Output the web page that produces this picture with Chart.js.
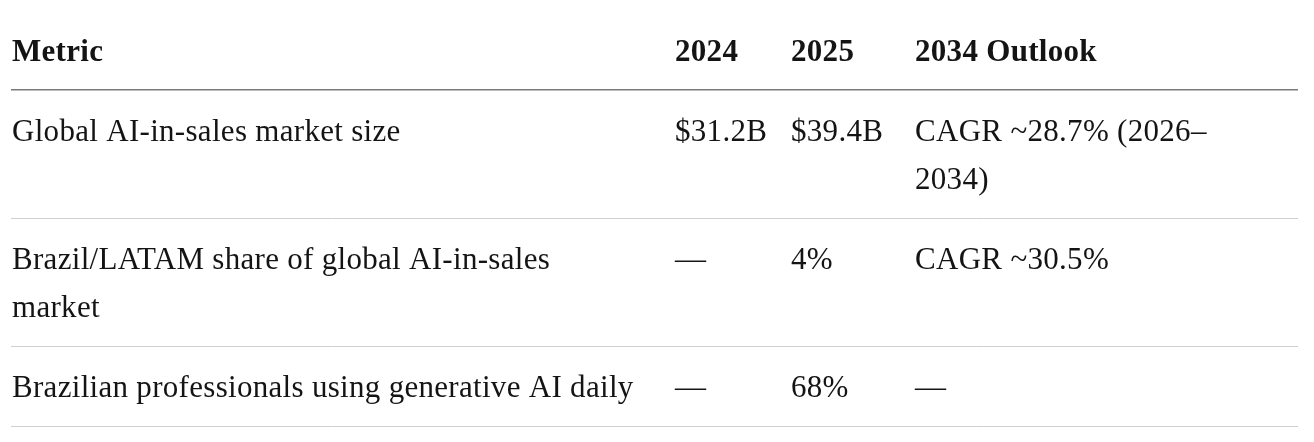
<!DOCTYPE html>
<html>
<head>
<meta charset="utf-8">
<title>AI-in-sales metrics</title>
<script src="https://cdn.jsdelivr.net/npm/chart.js@4.4.1/dist/chart.umd.min.js"></script>
<style>
  html, body { margin: 0; padding: 0; background: #fff; }
  #wrap { width: 1314px; height: 442px; position: relative; }
</style>
</head>
<body>
<div id="wrap"><canvas id="tabela"></canvas></div>
<script>
// ================== Dados ==================
const columns = ['Metric', '2024', '2025', '2034 Outlook'];
const metrics = [
  'Global AI-in-sales market size',
  'Brazil/LATAM share of global AI-in-sales\nmarket',
  'Brazilian professionals using generative AI daily'
];
const values2024 = ['$31.2B', '—', '—'];
const values2025 = ['$39.4B', '4%', '68%'];
const outlook2034 = ['CAGR ~28.7% (2026–\n2034)', 'CAGR ~30.5%', '—'];

// ================== Layout ==================
const colStarts = [12, 675, 791, 915];
const lineHeight = 48;
const baselineOffset = 35;
const cellPad = 16;
const headerTop = 26;
const fontSize = 31;
const fontFamily = '"Liberation Serif", "Times New Roman", serif';

// monta as linhas da tabela (cabeçalho + corpo)
const rows = [columns];
metrics.forEach((m, i) => rows.push([m, values2024[i], values2025[i], outlook2034[i]]));

// calcula onde cada linha começa e termina
const rowBaselines = [];
const rowBottoms = [];
let cursorY = 0;
rows.forEach((r, i) => {
  const nLines = Math.max(...r.map(c => c.split('\n').length));
  const padTop = i === 0 ? headerTop : cellPad;
  rowBaselines.push(cursorY + padTop + baselineOffset);
  cursorY = cursorY + padTop + nLines * lineHeight + cellPad;
  rowBottoms.push(cursorY);
});

// um dataset por coluna, um ponto por célula
const datasets = columns.map((col, c) => ({
  label: col,
  data: rows.map((r, i) => ({ x: colStarts[c], y: rowBaselines[i], text: r[c], header: i === 0 })),
  pointRadius: 0,
  pointHoverRadius: 0,
  showLine: false
}));

// ================== Plugin que escreve o texto das células ==================
const cellText = {
  id: 'cellText',
  afterDatasetsDraw(chart) {
    const ctx = chart.ctx;
    ctx.save();
    ctx.textBaseline = 'alphabetic';
    ctx.textAlign = 'left';
    ctx.fillStyle = '#141414';
    if ('letterSpacing' in ctx) ctx.letterSpacing = '0.3px';
    chart.data.datasets.forEach((ds, di) => {
      const meta = chart.getDatasetMeta(di);
      meta.data.forEach((pt, i) => {
        const raw = ds.data[i];
        ctx.font = (raw.header ? 'bold ' : '') + fontSize + 'px ' + fontFamily;
        raw.text.split('\n').forEach((line, li) => {
          ctx.fillText(line, pt.x, pt.y + li * lineHeight);
        });
      });
    });
    ctx.restore();
  }
};

new Chart(document.getElementById('tabela'), {
  type: 'scatter',
  data: { datasets },
  plugins: [cellText],
  options: {
    responsive: true,
    maintainAspectRatio: false,
    animation: false,
    events: [],
    layout: { padding: { left: 11, right: 16, top: 0, bottom: 0 } },
    plugins: { legend: { display: false }, tooltip: { enabled: false } },
    scales: {
      x: {
        type: 'linear', min: 11, max: 1298, display: false
      },
      y: {
        type: 'linear', min: 0, max: 442, reverse: true,
        afterBuildTicks: (axis) => { axis.ticks = rowBottoms.map(v => ({ value: v })); },
        ticks: { display: false },
        border: { display: false },
        grid: {
          drawTicks: false,
          color: (c) => c.index === 0 ? '#7a7a7a' : '#cfcfcf',
          lineWidth: (c) => c.index === 0 ? 1.5 : 1
        }
      }
    }
  }
});
</script>
</body>
</html>
